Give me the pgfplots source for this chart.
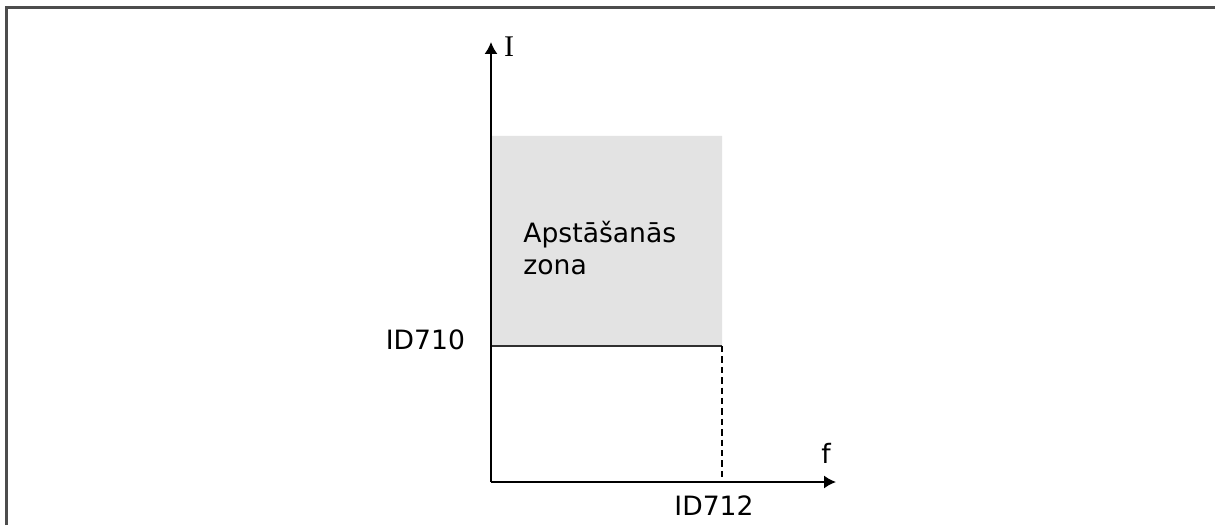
\documentclass[border=0pt]{standalone}
\usepackage{fontspec}
\setsansfont{DejaVu Sans}
\newfontfamily\serifI{Liberation Serif}
\usepackage{pgfplots}
\pgfplotsset{compat=1.18}
\usetikzlibrary{arrows.meta}
\definecolor{zonegray}{HTML}{E3E3E3}
\definecolor{framegray}{HTML}{4D4D4D}
\definecolor{limitline}{HTML}{303030}

\begin{document}
\begin{tikzpicture}[font=\sffamily\fontsize{13.3}{16}\selectfont]
  % page = 1215 x 525 px, 1 px = 0.5 pt
  \path[use as bounding box] (0,0) rectangle (607.5pt,262.5pt);

  \begin{axis}[
    at={(245.5pt,21.5pt)}, anchor=south west,
    scale only axis, width=172.5pt, height=220pt,
    xmin=0, xmax=345, ymin=0, ymax=440,
    axis lines=left,
    axis line style={line width=0.85pt, black, -{Latex[length=6pt,width=6.5pt]}},
    xtick=\empty, ytick=\empty,
    axis on top, clip=false,
  ]
    % stall zone
    \addplot[draw=none, fill=zonegray]
      coordinates {(0,136) (231,136) (231,346) (0,346) (0,136)};
    % current limit ID710 up to frequency ID712
    \addplot[limitline, line width=0.8pt]
      coordinates {(0,136) (231,136)};
    \addplot[black, line width=0.6pt, dash pattern=on 3.2pt off 2pt]
      coordinates {(231,136) (231,0)};

    \node[anchor=base east] at (axis cs:-19,132) {ID710};
    \node[anchor=base] at (axis cs:223,-33) {ID712};
    \node[anchor=base west, inner sep=0pt] at (axis cs:32,239) {Apstāšanās};
    \node[anchor=base west, inner sep=0pt] at (axis cs:32,207) {zona};
    \node[anchor=base, inner sep=0pt] at (axis cs:335,19) {f};
    \node[anchor=base, inner sep=0pt, font=\serifI\fontsize{15}{17}\selectfont]
      at (axis cs:18,425) {I};
  \end{axis}

  % outer frame
  \draw[framegray, line width=1.25pt]
    (3.25pt,0) -- (3.25pt,258.75pt) -- (607.5pt,258.75pt);
\end{tikzpicture}
\end{document}
